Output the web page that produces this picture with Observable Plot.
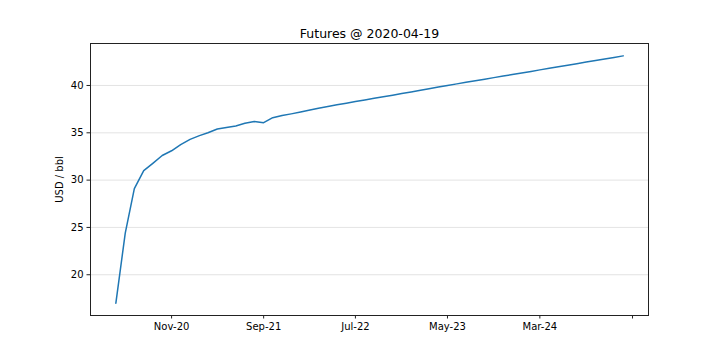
<!DOCTYPE html>
<html><head><meta charset="utf-8">
<script src="https://cdn.jsdelivr.net/npm/d3@7"></script>
<script src="https://cdn.jsdelivr.net/npm/@observablehq/plot@0.6"></script>
<style>body{margin:0;background:#fff} svg{display:block}</style>
</head><body><div id="chart"></div>
<script>
const title = "Futures @ 2020-04-19";
const yLabel = "USD / bbl";
const contracts = [
  "May-20","Jun-20","Jul-20","Aug-20","Sep-20","Oct-20","Nov-20","Dec-20",
  "Jan-21","Feb-21","Mar-21","Apr-21","May-21","Jun-21","Jul-21","Aug-21","Sep-21","Oct-21","Nov-21","Dec-21",
  "Jan-22","Feb-22","Mar-22","Apr-22","May-22","Jun-22","Jul-22","Aug-22","Sep-22","Oct-22","Nov-22","Dec-22",
  "Jan-23","Feb-23","Mar-23","Apr-23","May-23","Jun-23","Jul-23","Aug-23","Sep-23","Oct-23","Nov-23","Dec-23",
  "Jan-24","Feb-24","Mar-24","Apr-24","May-24","Jun-24","Jul-24","Aug-24","Sep-24","Oct-24","Nov-24","Dec-24"
];
const prices = [
  17.0, 24.4, 29.1, 31.0, 31.8, 32.6, 33.1, 33.75,
  34.3, 34.7, 35.0, 35.4, 35.55, 35.72, 36.0, 36.2, 36.07, 36.6, 36.82, 37.0,
  37.2, 37.4, 37.6, 37.78, 37.96, 38.13, 38.3, 38.47, 38.64, 38.81, 38.98, 39.15,
  39.32, 39.49, 39.66, 39.83, 40.0, 40.17, 40.34, 40.5, 40.67, 40.83, 40.99, 41.16,
  41.32, 41.48, 41.65, 41.81, 41.97, 42.14, 42.3, 42.47, 42.63, 42.8, 42.96, 43.13
];
const tickMonths = ["Nov-20","Sep-21","Jul-22","May-23","Mar-24","Jan-25"];
const tickLabels = ["Nov-20","Sep-21","Jul-22","May-23","Mar-24",""];
const yTicks = [20, 25, 30, 35, 40];

const parse = d3.utcParse("%b-%y");
const data = contracts.map((c, i) => ({date: parse(c), price: prices[i]}));
const tickDates = tickMonths.map(parse);
const labelByTime = new Map(tickDates.map((d, i) => [+d, tickLabels[i]]));

const t0 = +data[0].date, t1 = +data[data.length - 1].date;
const tpad = (t1 - t0) * 0.05;
const [pmin, pmax] = d3.extent(prices);
const ppad = (pmax - pmin) * 0.05;

const chart = Plot.plot({
  width: 720,
  height: 360,
  marginLeft: 90,
  marginRight: 72,
  marginTop: 43,
  marginBottom: 45,
  style: {fontFamily: "DejaVu Sans, sans-serif", fontSize: "10px", color: "black", background: "white"},
  x: {type: "utc", domain: [new Date(t0 - tpad), new Date(t1 + tpad)]},
  y: {domain: [pmin - ppad, pmax + ppad]},
  marks: [
    Plot.gridY(yTicks, {stroke: "#dcdcdc", strokeOpacity: 1, strokeWidth: 0.8}),
    Plot.line(data, {x: "date", y: "price", stroke: "#1f77b4", strokeWidth: 1.5}),
    Plot.axisX(tickDates, {tickSize: 3.5, tickPadding: 3.5, tickFormat: d => labelByTime.get(+d), label: null, stroke: "#222"}),
    Plot.axisY(yTicks, {tickSize: 3.5, tickPadding: 3.5, label: yLabel, labelAnchor: "center", labelArrow: "none", labelOffset: 35, stroke: "#222"}),
    Plot.frame({stroke: "#222", strokeWidth: 1}),
    Plot.text([title], {frameAnchor: "top", dy: -6, lineAnchor: "bottom", fontSize: 12.5, fill: "black"})
  ]
});
document.getElementById("chart").append(chart);
</script>
</body></html>
